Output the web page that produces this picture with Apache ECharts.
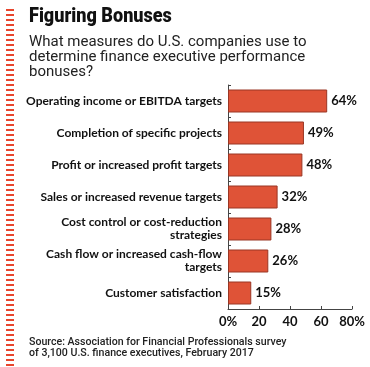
<!DOCTYPE html>
<html><head><meta charset="utf-8">
<script src="https://cdn.jsdelivr.net/npm/echarts@6/dist/echarts.min.js"></script>
<style>html,body{margin:0;padding:0;background:#fff}#c{width:370px;height:367px}</style>
</head><body><div id="c"></div>
<script>
const categories = [
  "Operating income or EBITDA targets",
  "Completion of specific projects",
  "Profit or increased profit targets",
  "Sales or increased revenue targets",
  "Cost control or cost-reduction\nstrategies",
  "Cash flow or increased cash-flow\ntargets",
  "Customer satisfaction"
];
const values = [64, 49, 48, 32, 28, 26, 15];
const xTicks = ["0%", "20", "40", "60", "80%"];
const titleText = "Figuring Bonuses";
const subtitleText = "What measures do U.S. companies use to\ndetermine finance executive performance\nbonuses?";
const sourceText = "Source: Association for Financial Professionals survey\nof 3,100 U.S. finance executives, February 2017";

const chart = echarts.init(document.getElementById('c'), null, {renderer: 'canvas'});
const FONT = 'Lato';
chart.setOption({
  animation: false,
  backgroundColor: '#fff',
  graphic: [
    {type: 'line', shape: {x1: 10, y1: 9, x2: 10, y2: 367}, style: {stroke: '#e8452c', lineWidth: 8, lineDash: [2, 3]}},
    {type: 'text', x: 29, y: 6, scaleX: 0.86, style: {text: titleText, font: '900 21px Roboto', fill: '#111'}},
    {type: 'text', left: 29, top: 35, style: {text: subtitleText, font: '15px Roboto', fill: '#222', lineHeight: 15}},
    {type: 'text', left: 29, top: 337, style: {text: sourceText, font: '500 10.6px Roboto', fill: '#222', lineHeight: 11}}
  ],
  grid: {left: 228, right: 18, top: 85, bottom: 58, containLabel: false},
  xAxis: {
    type: 'value', min: 0, max: 80, interval: 20,
    axisLine: {show: true, lineStyle: {color: '#444', width: 1}},
    axisTick: {show: true, inside: true, length: 3, lineStyle: {color: '#444'}},
    splitLine: {show: false},
    axisLabel: {
      color: '#111', fontFamily: FONT, fontWeight: 'bold', fontSize: 13, margin: 6,
      formatter: (v) => xTicks[Math.round(v / 20)]
    }
  },
  yAxis: {
    type: 'category', data: categories, inverse: true,
    axisLine: {show: true, lineStyle: {color: '#444', width: 1}},
    axisTick: {show: true, inside: true, length: 3, lineStyle: {color: '#444'}},
    axisLabel: {color: '#111', fontFamily: FONT, fontWeight: 'bold', fontSize: 12, margin: 6, lineHeight: 13, align: 'right'}
  },
  series: [{
    type: 'bar', data: values, barWidth: 23,
    itemStyle: {color: '#df5337', borderColor: '#9a3624', borderWidth: 1},
    label: {show: true, position: 'right', distance: 4, formatter: '{c}%', color: '#111', fontFamily: FONT, fontWeight: 'bold', fontSize: 13}
  }]
});
</script></body></html>
